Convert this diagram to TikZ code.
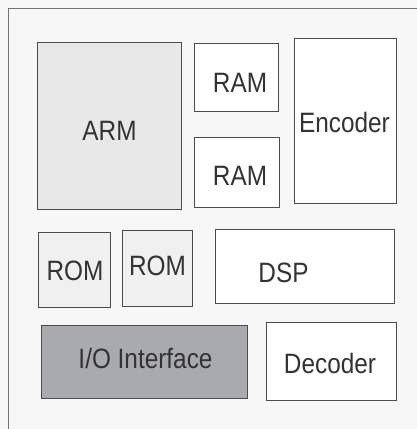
\documentclass[tikz,border=0pt]{standalone}
\usepackage{fontspec}
\setmainfont{Liberation Sans}[FakeStretch=0.87]
\begin{document}
\begin{tikzpicture}[x=1pt,y=-1pt,
  blk/.style={draw=black!70, line width=0.9pt, rectangle, inner sep=0pt},
  lbl/.style={anchor=base, inner sep=0pt, text=black!80, font=\fontsize{28}{30}\selectfont},
  frame/.style={draw=black!55, line width=1pt}]
\fill[white!97!black] (0,0) rectangle (417,429);
\useasboundingbox (0,0) rectangle (417,429);
\coordinate (ftr) at (417,8);
\coordinate (fc) at (8,8);
\coordinate (fbl) at (8,429);
\draw[frame] (ftr) -- (fc) -- (fbl);
% boxes
\node[blk, fill=black!9, minimum width=144pt, minimum height=167pt] (arm) at (109,125.5) {};
\node[blk, fill=white, minimum width=84pt, minimum height=68pt] (ram1) at (236,77) {};
\node[blk, fill=white, minimum width=85pt, minimum height=70pt] (ram2) at (236.5,172) {};
\node[blk, fill=white, minimum width=102pt, minimum height=165pt] (enc) at (345,120.5) {};
\node[blk, fill=black!6, minimum width=72pt, minimum height=75pt] (rom1) at (74,269.5) {};
\node[blk, fill=black!6, minimum width=70pt, minimum height=76pt] (rom2) at (157,268) {};
\node[blk, fill=white, minimum width=179pt, minimum height=74pt] (dsp) at (304.5,266) {};
\node[blk, fill={rgb,255:red,168;green,170;blue,176}, minimum width=206pt, minimum height=73pt] (io) at (144,361.5) {};
\node[blk, fill=white, minimum width=130pt, minimum height=78pt] (dec) at (331,361) {};
% labels
\node[lbl] (armt) at (109.5,140) {ARM};
\node[lbl] (ram1t) at (240,92) {RAM};
\node[lbl] (ram2t) at (240,185) {RAM};
\node[lbl] (enct) at (344.5,132) {Encoder};
\node[lbl] (rom1t) at (75,280) {ROM};
\node[lbl] (rom2t) at (157.5,275) {ROM};
\node[lbl] (dspt) at (283.5,282) {DSP};
\node[lbl] (iot) at (145.5,368) {I/O Interface};
\node[lbl] (dect) at (330,373) {Decoder};
\end{tikzpicture}
\end{document}
